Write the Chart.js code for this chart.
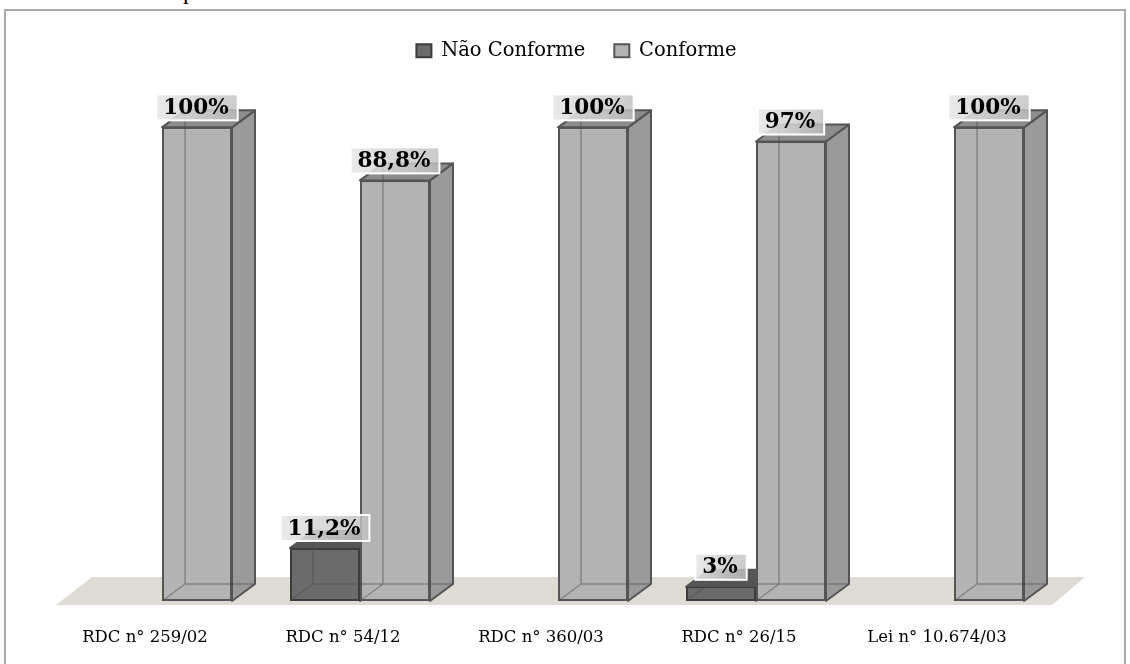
<!DOCTYPE html>
<html>
<head>
<meta charset="utf-8">
<script src="https://cdn.jsdelivr.net/npm/chart.js@4.4.1/dist/chart.umd.min.js"></script>
<style>
  html, body { margin: 0; padding: 0; background: #fff; }
  #wrap { position: relative; width: 1130px; height: 664px; overflow: hidden; }
  #frame { position: absolute; left: 4px; top: 9px; width: 1118px; height: 700px; border: 2px solid #a9a9a9; }
  #cut { position: absolute; left: 183px; top: -21px; color: #000; font-family: 'Liberation Serif'; font-size: 24px; line-height: 24px; }
  canvas { position: absolute; left: 0; top: 0; }
</style>
</head>
<body>
<div id="wrap">
  <div id="cut">p</div>
  <div id="frame"></div>
  <canvas id="chart" width="1130" height="664"></canvas>
</div>
<script>
// categories and values
const categories = ['RDC n° 259/02', 'RDC n° 54/12', 'RDC n° 360/03', 'RDC n° 26/15', 'Lei n° 10.674/03'];
const seriesNames = ['Não Conforme', 'Conforme'];
const naoConforme = [0, 11.2, 0, 3, 0];
const conforme = [100, 88.8, 100, 97, 100];

// look of the fake 3d bars
const depthX = 23;
const depthY = 17;
const edgeColor = '#555555';
const frontColors = ['#6b6b6b', '#b3b3b3'];
const sideColors = ['#5a5a5a', '#9a9a9a'];
const topColors = ['#565656', '#8d8d8d'];
const serif = 'DejaVu Serif';

// pt-BR style number: 88.8 -> "88,8%"
function pct(v) {
  return String(v).replace('.', ',') + '%';
}

function barBox(bar) {
  const p = bar.getProps(['x', 'y', 'base', 'width'], true);
  return { l: p.x - p.width / 2, r: p.x + p.width / 2, x: p.x, y: p.y, b: p.base };
}

function poly(ctx, pts, fill) {
  ctx.beginPath();
  ctx.moveTo(pts[0][0], pts[0][1]);
  for (let i = 1; i < pts.length; i++) ctx.lineTo(pts[i][0], pts[i][1]);
  ctx.closePath();
  ctx.fillStyle = fill;
  ctx.fill();
  ctx.stroke();
}

// floor + side/top faces before the library draws the front faces,
// back edges and value boxes after
const bar3d = {
  id: 'bar3d',
  afterLayout(chart) {
    // legend sits a bit right of the plot centre in the original
    chart.legend.left += 37;
  },
  beforeDatasetsDraw(chart) {
    const ctx = chart.ctx;
    const area = chart.chartArea;
    const base = chart.scales.y.getPixelForValue(0);
    ctx.save();
    ctx.fillStyle = '#dddbd3';
    ctx.beginPath();
    ctx.moveTo(area.left - 7, base + 4);
    ctx.lineTo(area.right - 1, base + 4);
    ctx.lineTo(area.right + 32, base - 24);
    ctx.lineTo(area.left + 29, base - 24);
    ctx.closePath();
    ctx.fill();

    ctx.strokeStyle = edgeColor;
    ctx.lineWidth = 2;
    ctx.lineJoin = 'round';
    chart.data.datasets.forEach((ds, di) => {
      chart.getDatasetMeta(di).data.forEach((bar, i) => {
        if (!ds.data[i]) return;
        const q = barBox(bar);
        poly(ctx, [[q.r, q.y], [q.r + depthX, q.y - depthY], [q.r + depthX, q.b - depthY], [q.r, q.b]], sideColors[di]);
        poly(ctx, [[q.l, q.y], [q.l + depthX, q.y - depthY], [q.r + depthX, q.y - depthY], [q.r, q.y]], topColors[di]);
      });
    });
    ctx.restore();
  },
  afterDatasetsDraw(chart) {
    const ctx = chart.ctx;
    ctx.save();
    // hidden edges seen through the bars
    ctx.strokeStyle = 'rgba(75,75,75,0.45)';
    ctx.lineWidth = 1.5;
    chart.data.datasets.forEach((ds, di) => {
      chart.getDatasetMeta(di).data.forEach((bar, i) => {
        if (!ds.data[i]) return;
        const q = barBox(bar);
        ctx.beginPath();
        ctx.moveTo(q.l + depthX, q.y - depthY);
        ctx.lineTo(q.l + depthX, q.b - depthY);
        ctx.lineTo(q.r + depthX, q.b - depthY);
        ctx.moveTo(q.l, q.b);
        ctx.lineTo(q.l + depthX, q.b - depthY);
        ctx.stroke();
      });
    });

    // value boxes
    ctx.font = 'bold 21.5px "' + serif + '"';
    ctx.textAlign = 'center';
    ctx.textBaseline = 'middle';
    chart.data.datasets.forEach((ds, di) => {
      chart.getDatasetMeta(di).data.forEach((bar, i) => {
        const v = ds.data[i];
        if (!v) return;
        const q = barBox(bar);
        const text = pct(v);
        const w = ctx.measureText(text).width + 16;
        const h = 26;
        const bx = q.x - w / 2;
        const by = q.y - 7 - h;
        const g = ctx.createLinearGradient(bx, 0, bx + w, 0);
        g.addColorStop(0, 'rgba(232,232,232,0.9)');
        g.addColorStop(1, 'rgba(190,190,190,0.8)');
        ctx.fillStyle = g;
        ctx.fillRect(bx, by, w, h);
        ctx.strokeStyle = '#ffffff';
        ctx.lineWidth = 2;
        ctx.strokeRect(bx, by, w, h);
        ctx.fillStyle = '#000';
        ctx.fillText(text, q.x - 1, by + h / 2 + 1);
      });
    });
    ctx.restore();
  }
};

new Chart(document.getElementById('chart'), {
  type: 'bar',
  data: {
    labels: categories,
    datasets: [{
      label: seriesNames[0],
      data: naoConforme,
      backgroundColor: frontColors[0],
      borderColor: '#3c3c3c',
      borderWidth: 2,
      borderSkipped: false
    }, {
      label: seriesNames[1],
      data: conforme,
      backgroundColor: frontColors[1],
      borderColor: edgeColor,
      borderWidth: 2,
      borderSkipped: false
    }]
  },
  options: {
    responsive: false,
    animation: false,
    categoryPercentage: 0.707,
    barPercentage: 1,
    layout: { padding: { top: 12, left: 63, right: 77, bottom: 0 } },
    plugins: {
      legend: {
        position: 'top',
        labels: {
          font: { family: serif, size: 19.5 },
          color: '#000',
          boxWidth: 15,
          boxHeight: 13,
          padding: 29
        }
      },
      tooltip: { enabled: false }
    },
    scales: {
      x: {
        grid: { display: false, drawTicks: false },
        border: { display: false },
        ticks: {
          font: { family: serif, size: 16.5 },
          color: '#000',
          padding: 27,
          labelOffset: -17,
          maxRotation: 0,
          autoSkip: false
        },
        afterFit(scale) { scale.height = 63; }
      },
      y: { display: false, min: 0, max: 112 }
    }
  },
  plugins: [bar3d]
});
</script>
</body>
</html>
